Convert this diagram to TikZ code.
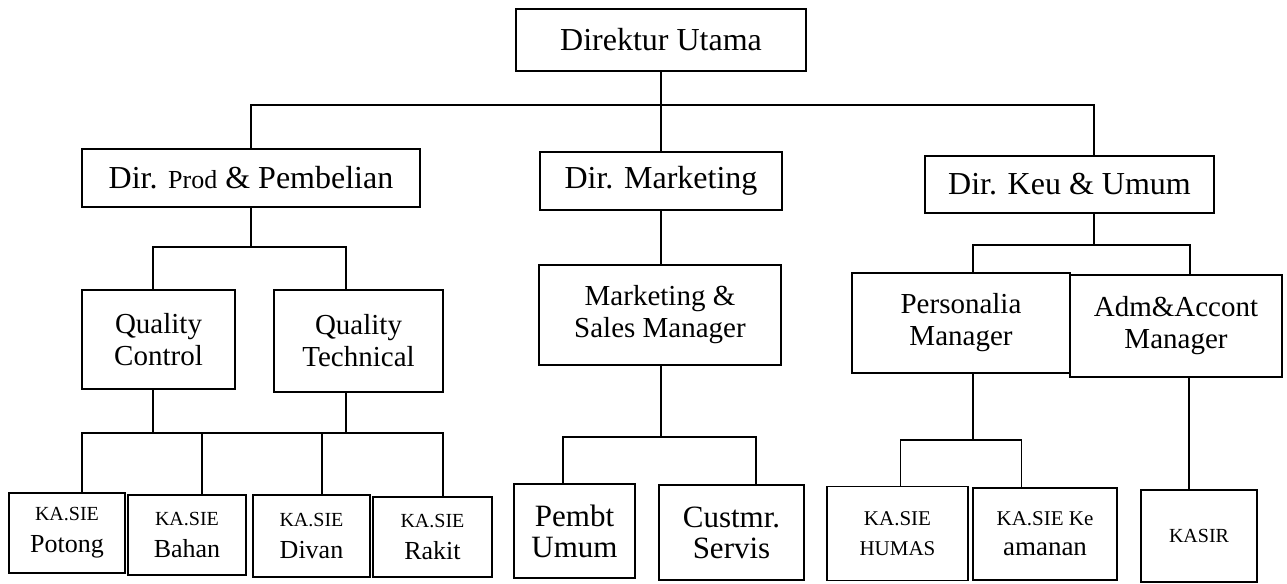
\documentclass[tikz,border=0pt]{standalone}
\usepackage{fontspec}
\setmainfont{Liberation Serif}
\begin{document}
\begin{tikzpicture}[x=0.5pt, y=-0.5pt,
    kotak/.style={draw, line width=0.9pt, inner sep=0pt, align=center},
    judul/.style={kotak, font=\fontsize{16}{18}\selectfont},
    tengah/.style={kotak, font=\fontsize{14.5}{16}\selectfont},
    seksi/.style={kotak, font=\fontsize{13}{16}\selectfont},
    garis/.style={line width=0.9pt}]
        \useasboundingbox (0,0) rectangle (1287,584);
        % Direktur
        \node[judul, minimum width=145pt, minimum height=31pt] (dirut) at (661,40) {Direktur Utama};
        \node[judul, minimum width=169pt, minimum height=29pt] (dirprod) at (251,178) {Dir. {\fontsize{13}{16}\selectfont Prod} \& Pembelian};
        \node[judul, minimum width=121pt, minimum height=29pt] (dirmkt) at (661,181) {Dir. Marketing};
        \node[judul, minimum width=144.5pt, minimum height=28.5pt] (dirkeu) at (1069.5,184.5) {Dir. Keu \& Umum};
        % Manager
        \node[tengah, minimum width=76.5pt, minimum height=49.5pt] (qc) at (158.5,339.5) {Quality\\Control};
        \node[tengah, minimum width=84.5pt, minimum height=51pt] (qt) at (358.5,341) {Quality\\Technical};
        \node[tengah, minimum width=121pt, minimum height=50pt] (mgr) at (660,315) {Marketing \&\\Sales Manager};
        \node[tengah, minimum width=109pt, minimum height=50pt] (pers) at (961,323) {Personalia\\Manager};
        \node[tengah, minimum width=106pt, minimum height=51pt] (adm) at (1176,326) {Adm\&Accont\\Manager};
        % Kepala seksi
        \node[seksi, minimum width=58pt, minimum height=40pt] (potong) at (67,533) {{\fontsize{10}{12}\selectfont KA.SIE}\\Potong};
        \node[seksi, minimum width=59pt, minimum height=40pt] (bahan) at (187,535) {{\fontsize{10}{12}\selectfont KA.SIE}\\Bahan};
        \node[seksi, minimum width=58.5pt, minimum height=41pt] (divan) at (311.5,536) {{\fontsize{10}{12}\selectfont KA.SIE}\\Divan};
        \node[seksi, minimum width=59.5pt, minimum height=40pt] (rakit) at (432.5,537) {{\fontsize{10}{12}\selectfont KA.SIE}\\Rakit};
        \node[kotak, font=\fontsize{15.5}{15.5}\selectfont, minimum width=60.5pt, minimum height=47pt] (pembt) at (574.5,531) {Pembt\\Umum};
        \node[kotak, font=\fontsize{15.5}{15.5}\selectfont, minimum width=72.5pt, minimum height=47.5pt] (custmr) at (731.5,532.5) {Custmr.\\Servis};
        \node[kotak, font=\fontsize{10.5}{15}\selectfont, minimum width=70.5pt, minimum height=47pt] (humas) at (897.5,533.5) {KA.SIE\\HUMAS};
        \node[kotak, font=\fontsize{13.5}{15}\selectfont, minimum width=72pt, minimum height=46pt] (keamanan) at (1045,534) {{\fontsize{10.5}{12}\selectfont KA.SIE Ke}\\amanan};
        \node[kotak, font=\fontsize{10}{12}\selectfont, minimum width=58pt, minimum height=46pt] (kasir) at (1199,536) {KASIR};
        % Titik cabang
        \coordinate (j1) at (661,105);
        \coordinate (j2) at (251,247);
        \coordinate (j3) at (153,433);
        \coordinate (j4) at (346,433);
        \coordinate (j5) at (661,437);
        \coordinate (j6) at (1094,245);
        \coordinate (j7) at (973,440);
        % Garis direktur
        \draw[garis] (dirut) -- (dirmkt);
        \draw[garis] (dirprod.north) |- (j1) -| ([xshift=12.25pt]dirkeu.north);
        % Garis produksi
        \draw[garis] (dirprod) -- (j2);
        \draw[garis] ([xshift=-2.75pt]qc.north) |- (j2) -| ([xshift=-6.25pt]qt.north);
        \draw[garis] ([xshift=-2.75pt]qc.south) -- (j3);
        \draw[garis] ([xshift=-6.25pt]qt.south) -- (j4);
        \draw[garis] ([xshift=7.5pt]potong.north) |- (j3) -- (j4) -| ([xshift=5.25pt]rakit.north);
        \draw[garis] ([xshift=7.5pt]bahan.north) |- (j3);
        \draw[garis] ([xshift=5.25pt]divan.north) |- (j4);
        % Garis marketing
        \draw[garis] (dirmkt) -- (mgr.north -| dirmkt);
        \draw[garis] (mgr.south -| j5) -- (j5);
        \draw[garis] ([xshift=-5.75pt]pembt.north) |- (j5) -| ([xshift=12.25pt]custmr.north);
        % Garis keuangan
        \draw[garis] ([xshift=12.25pt]dirkeu.south) -- (j6);
        \draw[garis] ([xshift=6pt]pers.north) |- (j6) -| ([xshift=7pt]adm.north);
        \draw[garis] ([xshift=6pt]pers.south) -- (j7);
        \draw[garis] ([xshift=1.5pt]humas.north) |- (j7) -| ([xshift=-11.75pt]keamanan.north);
        \draw[garis] ([xshift=6.5pt]adm.south) -- ([xshift=-5pt]kasir.north);
\end{tikzpicture}
\end{document}
